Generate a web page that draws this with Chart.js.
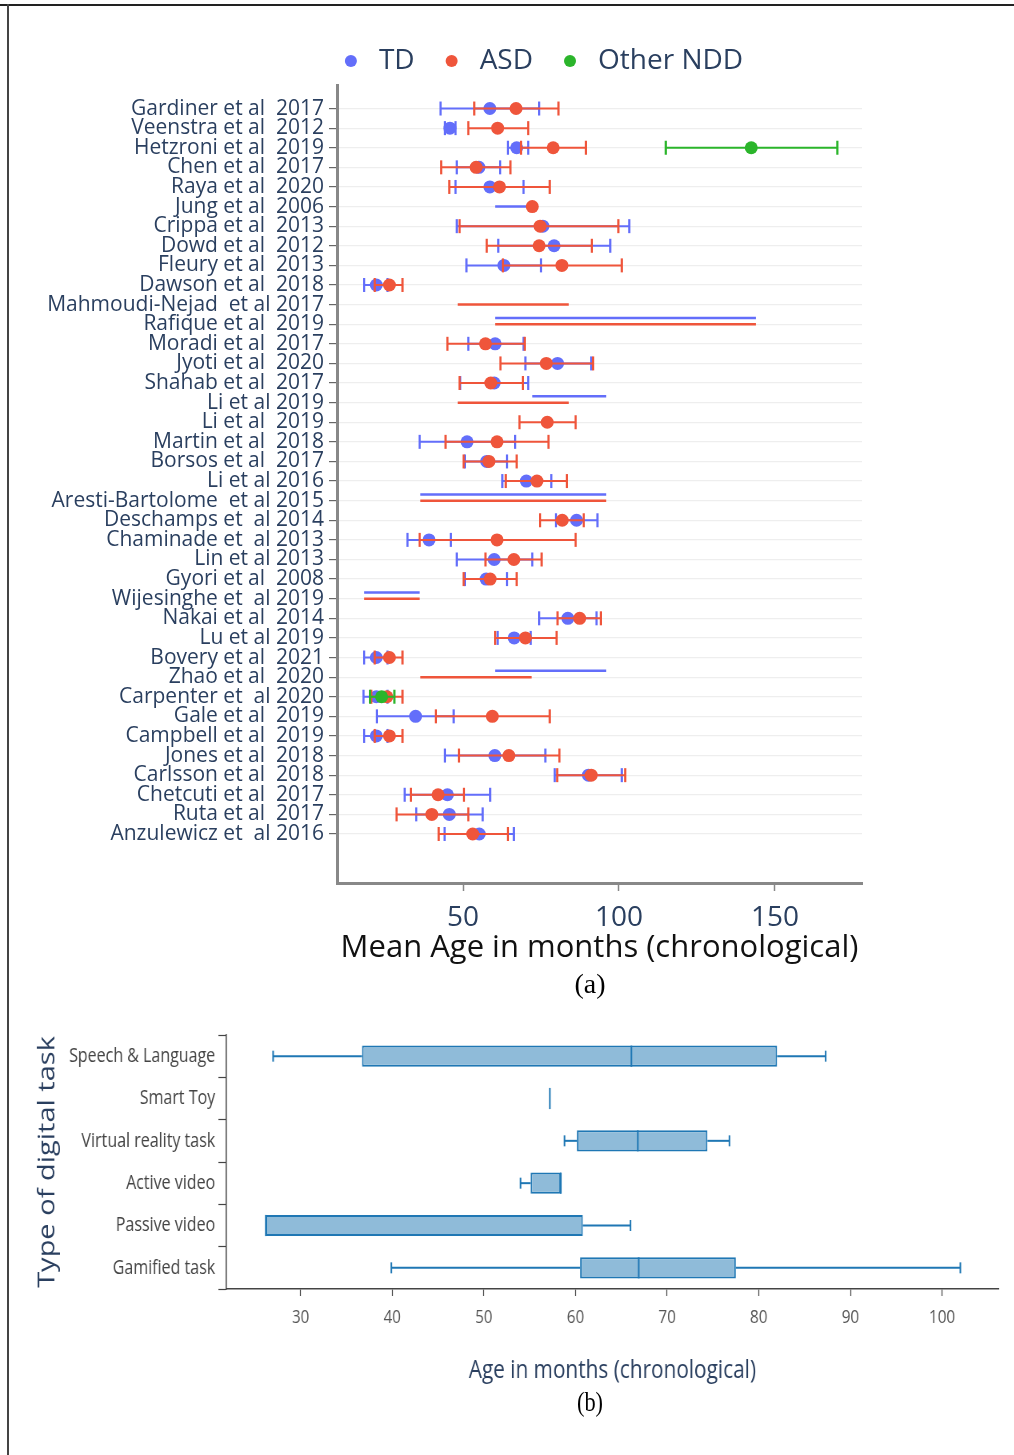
<!DOCTYPE html>
<html>
<head>
<meta charset="utf-8">
<script src="https://cdn.jsdelivr.net/npm/chart.js@4.4.1/dist/chart.umd.min.js"></script>
<style>
html,body{margin:0;padding:0;background:#fff;}
body{width:1014px;height:1455px;position:relative;overflow:hidden;font-family:"Open Sans",sans-serif;}
#frameTop{position:absolute;left:0;top:4px;width:1014px;height:2px;background:#222;}
#frameLeft{position:absolute;left:7px;top:4px;width:1.5px;height:1451px;background:#444;}
#c1{position:absolute;left:0;top:0;}
#capA{position:absolute;left:0;width:1180px;top:968px;line-height:32px;text-align:center;font-family:"Liberation Serif","Times New Roman",serif;font-size:28px;color:#000;}
#bottomWrap{position:absolute;left:0;top:1002px;width:1268px;height:453px;transform:scaleX(0.8);transform-origin:0 0;}
#c2{position:absolute;left:0;top:0;}
#capB{position:absolute;left:0;width:1475px;top:384px;line-height:32px;text-align:center;font-family:"Liberation Serif","Times New Roman",serif;font-size:28px;color:#000;}
</style>
</head>
<body>
<div id="frameTop"></div>
<div id="frameLeft"></div>
<canvas id="c1" width="1014" height="970"></canvas>
<div id="capA">(a)</div>
<div id="bottomWrap">
  <canvas id="c2" width="1268" height="390"></canvas>
  <div id="capB">(b)</div>
</div>
<script>
// ---------------- Panel (a) data ----------------
const studies = [
  'Gardiner et al  2017','Veenstra et al  2012','Hetzroni et al  2019','Chen et al  2017','Raya et al  2020',
  'Jung et al  2006','Crippa et al  2013','Dowd et al  2012','Fleury et al  2013','Dawson et al  2018',
  'Mahmoudi-Nejad  et al 2017','Rafique et al  2019','Moradi et al  2017','Jyoti et al  2020','Shahab et al  2017',
  'Li et al 2019','Li et al  2019','Martin et al  2018','Borsos et al  2017','Li et al 2016',
  'Aresti-Bartolome  et al 2015','Deschamps et  al 2014','Chaminade et  al 2013','Lin et al 2013','Gyori et al  2008',
  'Wijesinghe et  al 2019','Nakai et al  2014','Lu et al 2019','Bovery et al  2021','Zhao et al  2020',
  'Carpenter et  al 2020','Gale et al  2019','Campbell et al  2019','Jones et al  2018','Carlsson et al  2018',
  'Chetcuti et al  2017','Ruta et al  2017','Anzulewicz et  al 2016'
];
// mean = null with low/high given -> only an age range is reported
const tdMean = [58.6,45.8,67.2,55.1,58.6, null,75.6,79.2,63.1,22.2, null,null,60.3,80.3,60.0, null,null,51.3,57.6,70.3,
  null,86.4,39.1,60.0,57.4, null,83.6,66.4,22.2,null, 22.2,34.8,22.2,60.2,90.2, 45.0,45.6,55.2];
const tdLow = [42.8,44.2,64.4,48.0,47.6, 60.3,48.0,61.3,51.1,18.3, null,60.3,51.7,70.0,49.1, 72.2,null,36.1,50.6,62.6,
  36.3,79.8,32.2,48.0,50.6, 18.3,74.4,61.1,18.3,60.3, 18.1,22.4,18.3,44.2,79.4, 31.3,35.0,44.1];
const tdHigh = [74.4,47.6,70.9,61.9,69.4, 72.2,103.3,97.2,75.0,25.8, null,143.9,69.4,91.1,70.9, 95.9,null,66.7,64.1,78.3,
  95.9,93.1,46.1,72.2,64.1, 36.1,92.8,71.7,25.8,95.9, 25.8,47.0,25.8,76.4,100.9, 58.7,56.3,66.3];

const asdMean = [67.0,61.1,78.9,54.2,61.7, 72.2,74.7,74.4,81.7,26.4, null,null,57.2,76.7,58.9, null,77.0,60.9,58.3,73.7,
  null,81.8,60.9,66.3,58.7, null,87.4,70.0,26.4,null, 25.6,59.4,26.4,64.7,91.1, 42.0,40.0,53.1];
const asdLow = [53.6,51.7,68.6,43.0,45.6, null,48.9,57.6,62.8,21.7, 48.3,60.3,45.0,62.0,48.9, 48.3,68.1,44.4,50.2,63.7,
  36.3,74.7,36.1,57.2,50.2, 18.3,80.3,60.3,21.7,36.3, 20.6,41.3,21.7,48.7,80.2, 33.3,28.7,42.2];
const asdHigh = [80.6,70.9,89.4,65.2,77.8, null,99.8,91.3,100.9,30.6, 83.9,143.9,69.8,91.7,69.2, 83.9,86.1,77.4,67.2,83.3,
  95.9,88.7,86.1,75.2,67.2, 36.1,94.2,80.0,30.6,72.0, 30.6,77.8,30.6,80.9,102.0, 50.3,51.7,64.4];

const nddMean = studies.map(() => null); nddMean[2] = 142.4; nddMean[30] = 23.9;
const nddLow  = studies.map(() => null); nddLow[2]  = 115.0; nddLow[30]  = 20.2;
const nddHigh = studies.map(() => null); nddHigh[2] = 170.0; nddHigh[30] = 28.0;

const ageTicksA = [50, 100, 150];
const seriesNames = ['TD', 'ASD', 'Other NDD'];

// ---------------- Panel (b) data ----------------
const taskTypes = ['Speech & Language','Smart Toy','Virtual reality task','Active video','Passive video','Gamified task'];
const whiskerLow  = [27.0, 57.2, 58.8, 54.0, 26.2, 39.9];
const quartile1   = [36.7, 57.2, 60.15, 55.1, 26.2, 60.5];
const medians     = [66.1, 57.2, 66.8, 58.4, 26.2, 66.9];
const quartile3   = [82.0, 57.2, 74.4, 58.4, 60.8, 77.5];
const whiskerHigh = [87.3, 57.2, 76.8, 58.4, 66.0, 102.0];
const ageTicksB = [30, 40, 50, 60, 70, 80, 90, 100];

// ---------------- styles ----------------
const TD_COLOR = '#636efa', ASD_COLOR = '#ef553b', NDD_COLOR = '#2bb52b';
const TEXT_COLOR = '#2a3f5f';
const FONT = '"Open Sans", sans-serif';
Chart.defaults.font.family = FONT;
Chart.defaults.animation = false;

function errorBarData(mean, lo, hi) {
  const out = [];
  mean.forEach((m, i) => {
    if (m != null && lo[i] != null && hi[i] != null) {
      out.push({x: lo[i], y: i}, {x: hi[i], y: i}, {x: null, y: null});
    }
  });
  return out;
}
function meanData(mean) {
  const out = [];
  mean.forEach((m, i) => { if (m != null) out.push({x: m, y: i}); });
  return out;
}
function rangeData(mean, lo, hi, otherMean, otherLo, shift) {
  const out = [];
  mean.forEach((m, i) => {
    if (m == null && lo[i] != null && hi[i] != null) {
      const both = otherMean[i] == null && otherLo[i] != null;
      const y = i + (both ? shift : 0);
      out.push({x: lo[i], y: y}, {x: hi[i], y: y}, {x: null, y: null});
    }
  });
  return out;
}
function errDataset(data, color, order) {
  return {data, showLine: true, spanGaps: false, borderColor: color, borderWidth: 2,
    pointStyle: 'line', rotation: 90, pointRadius: 7, pointBorderWidth: 2.2,
    pointBorderColor: color, pointBackgroundColor: color, pointHoverRadius: 7, order};
}
function rangeDataset(data, color, order) {
  return {data, showLine: true, spanGaps: false, borderColor: color, borderWidth: 2.5,
    pointRadius: 0, pointHoverRadius: 0, order};
}
function dotDataset(data, color, order) {
  return {data, showLine: false, pointStyle: 'circle', pointRadius: 6.5, pointHoverRadius: 6.5,
    pointBackgroundColor: color, backgroundColor: color, pointBorderWidth: 0, borderColor: color, order};
}

const dsA = [
  errDataset(errorBarData(tdMean, tdLow, tdHigh), TD_COLOR, 9),
  rangeDataset(rangeData(tdMean, tdLow, tdHigh, asdMean, asdLow, -0.32), TD_COLOR, 8),
  dotDataset(meanData(tdMean), TD_COLOR, 7),
  errDataset(errorBarData(asdMean, asdLow, asdHigh), ASD_COLOR, 6),
  rangeDataset(rangeData(asdMean, asdLow, asdHigh, tdMean, tdLow, 0), ASD_COLOR, 5),
  dotDataset(meanData(asdMean), ASD_COLOR, 4),
  errDataset(errorBarData(nddMean, nddLow, nddHigh), NDD_COLOR, 3),
  dotDataset(meanData(nddMean), NDD_COLOR, 2)
];
const legendColors = [TD_COLOR, ASD_COLOR, NDD_COLOR];
const legendDatasetIdx = [2, 5, 7];

const legendShift = {
  id: 'legendShift',
  afterLayout(chart) {
    const lg = chart.legend; if (!lg) return;
    const d = chart.options.plugins.legendShift.center - (lg.left + lg.right) / 2;
    lg.left += d; lg.right += d;
  }
};

new Chart(document.getElementById('c1'), {
  type: 'scatter',
  data: {datasets: dsA},
  plugins: [legendShift],
  options: {
    responsive: false,
    animation: false,
    layout: {padding: {left: 10, right: 152, top: 24, bottom: 3}},
    plugins: {
      legendShift: {center: 540},
      tooltip: {enabled: false},
      legend: {
        display: true, position: 'top', align: 'center',
        onClick: null,
        labels: {
          usePointStyle: true, boxHeight: 8.5, boxWidth: 28, padding: 23,
          color: TEXT_COLOR, font: {size: 28, family: FONT},
          generateLabels: () => seriesNames.map((n, k) => ({
            text: n, fillStyle: legendColors[k], strokeStyle: legendColors[k], lineWidth: 0,
            pointStyle: 'circle', hidden: false, datasetIndex: legendDatasetIdx[k], fontColor: TEXT_COLOR
          }))
        }
      }
    },
    scales: {
      x: {
        type: 'linear', min: 9.6, max: 177.9,
        afterBuildTicks: (ax) => { ax.ticks = ageTicksA.map(v => ({value: v})); },
        afterFit: (ax) => { ax.height = 84; },
        grid: {drawOnChartArea: false, drawTicks: true, tickLength: 8, tickColor: '#888', tickWidth: 1.5},
        border: {display: true, color: '#888', width: 3},
        ticks: {color: TEXT_COLOR, font: {size: 28}, padding: 10, maxRotation: 0},
        title: {display: true, text: 'Mean Age in months (chronological)', color: '#111',
          font: {size: 31}, padding: {top: 0, bottom: 0}}
      },
      y: {
        type: 'linear', reverse: true, min: -1.2, max: 39.5,
        afterBuildTicks: (ax) => { ax.ticks = studies.map((_, i) => ({value: i})); },
        afterFit: (ax) => { ax.width = 327; },
        grid: {drawOnChartArea: true, color: '#eeeeee', lineWidth: 1.2, drawTicks: true, tickLength: 8, tickColor: '#666', tickWidth: 1.2},
        border: {display: true, color: '#888', width: 3},
        ticks: {autoSkip: false, color: TEXT_COLOR, font: {size: 21}, padding: 5,
          callback: (v) => studies[v] !== undefined ? studies[v] : ''}
      }
    }
  }
});

// ---------------- Panel (b) ----------------
const BOX_LINE = '#1f77b4', BOX_FILL = '#8fbbd9';
const boxPlugin = {
  id: 'boxParts',
  afterDatasetsDraw(chart) {
    const xs = chart.scales.x, ys = chart.scales.y, ctx = chart.ctx;
    const meta = chart.getDatasetMeta(0);
    ctx.save();
    ctx.strokeStyle = BOX_LINE; ctx.lineWidth = 2; ctx.lineCap = 'butt';
    taskTypes.forEach((_, i) => {
      const y = ys.getPixelForValue(i);
      const h = meta.data[i].getProps(['height'], true).height;
      const half = h / 2, cap = 5.5;
      const line = (x1, y1, x2, y2) => { ctx.beginPath(); ctx.moveTo(x1, y1); ctx.lineTo(x2, y2); ctx.stroke(); };
      const xm = xs.getPixelForValue(medians[i]);
      line(xm, y - half, xm, y + half);
      if (whiskerLow[i] < quartile1[i]) {
        const a = xs.getPixelForValue(whiskerLow[i]), b = xs.getPixelForValue(quartile1[i]);
        line(a, y, b, y); line(a, y - cap, a, y + cap);
      }
      if (whiskerHigh[i] > quartile3[i]) {
        const a = xs.getPixelForValue(quartile3[i]), b = xs.getPixelForValue(whiskerHigh[i]);
        line(a, y, b, y); line(b, y - cap, b, y + cap);
      }
    });
    ctx.restore();
  }
};

new Chart(document.getElementById('c2'), {
  type: 'bar',
  data: {
    labels: taskTypes,
    datasets: [{
      data: taskTypes.map((_, i) => [quartile1[i], quartile3[i]]),
      backgroundColor: BOX_FILL, borderColor: BOX_LINE, borderWidth: 2, borderSkipped: false,
      barPercentage: 0.5, categoryPercentage: 1.0
    }]
  },
  plugins: [boxPlugin],
  options: {
    indexAxis: 'y',
    responsive: false,
    animation: false,
    layout: {padding: {left: 0, right: 20, top: 33, bottom: 6}},
    plugins: {legend: {display: false}, tooltip: {enabled: false}},
    scales: {
      x: {
        type: 'linear', min: 21.9, max: 106.15,
        afterBuildTicks: (ax) => { ax.ticks = ageTicksB.map(v => ({value: v})); },
        afterFit: (ax) => { ax.height = 97; },
        grid: {drawOnChartArea: false, drawTicks: true, tickLength: 7, tickColor: '#444', tickWidth: 1.2},
        border: {display: true, color: '#444', width: 1.5},
        ticks: {color: '#555', font: {size: 19}, padding: 10, maxRotation: 0},
        title: {display: true, text: 'Age in months (chronological)', color: TEXT_COLOR,
          font: {size: 26}, padding: {top: 0, bottom: 0}}
      },
      y: {
        type: 'category', offset: true,
        afterFit: (ax) => { ax.width = 283; },
        grid: {drawOnChartArea: false, drawTicks: true, tickLength: 10, tickColor: '#444', tickWidth: 1.2},
        border: {display: true, color: '#444', width: 1.5},
        ticks: {color: '#444', font: {size: 20}, padding: 4, autoSkip: false},
        title: {display: true, text: 'Type of digital task', color: TEXT_COLOR,
          font: {size: 29}, padding: {top: 42, bottom: 0}}
      }
    }
  }
});
</script>
</body>
</html>
